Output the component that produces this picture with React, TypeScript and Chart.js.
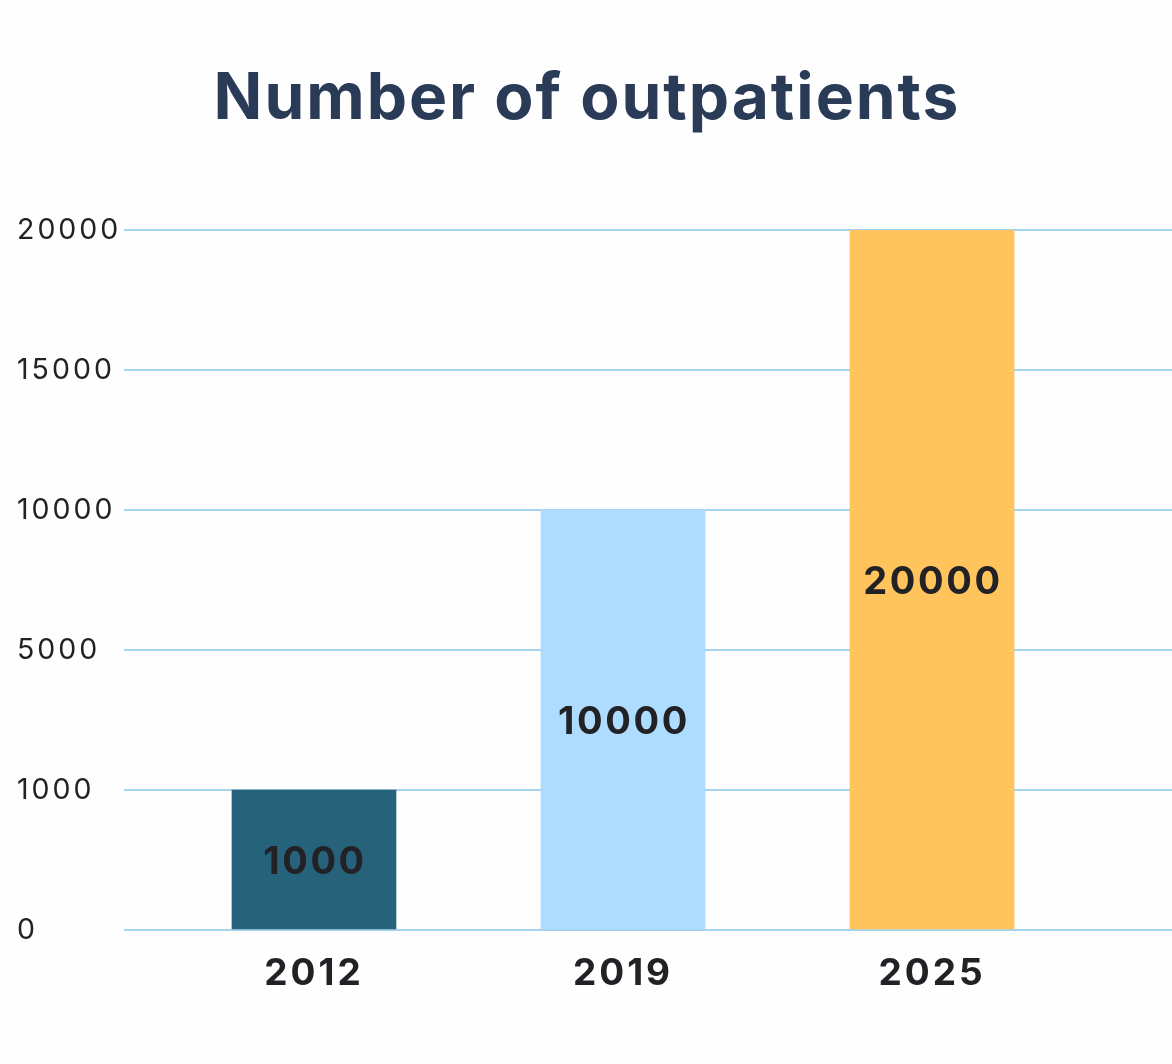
import React, { useEffect, useRef } from "react";
import { Chart, registerables } from "chart.js";

Chart.register(...registerables);

const titleText = "Number of outpatients";
const categories = ["2012", "2019", "2025"];
const values = [1000, 10000, 20000];
const barColors = ["#27627b", "#addcfe", "#ffc55c"];
const yTickValues = [0, 1000, 5000, 10000, 15000, 20000];

// map a real value onto the evenly spaced tick positions (piecewise linear)
function toAxis(v: number): number {
  for (let i = 1; i < yTickValues.length; i++) {
    const a = yTickValues[i - 1];
    const b = yTickValues[i];
    if (v <= b) return i - 1 + (v - a) / (b - a);
  }
  return yTickValues.length - 1;
}

const FONT = "Inter, 'Open Sans', 'DejaVu Sans', sans-serif";

export default function App() {
  const ref = useRef<HTMLCanvasElement | null>(null);

  useEffect(() => {
    document.body.style.margin = "0";
    document.body.style.background = "#fefefe";
    const canvas = ref.current!;

    const spacingPlugin = {
      id: "spacing",
      beforeDraw(chart: any) {
        (chart.ctx as any).letterSpacing = "3px";
      },
      afterDraw(chart: any) {
        (chart.ctx as any).letterSpacing = "0px";
      },
    };

    const titlePlugin = {
      id: "customTitle",
      afterDraw(chart: any) {
        const ctx = chart.ctx;
        ctx.save();
        ctx.font = `700 64px ${FONT}`;
        (ctx as any).letterSpacing = "2px";
        ctx.fillStyle = "#2a3b57";
        ctx.textAlign = "center";
        ctx.textBaseline = "middle";
        ctx.fillText(titleText, 587, 100);
        ctx.restore();
      },
    };

    const valueLabels = {
      id: "valueLabels",
      afterDatasetsDraw(chart: any) {
        const ctx = chart.ctx;
        const meta = chart.getDatasetMeta(0);
        ctx.save();
        ctx.font = `700 38px ${FONT}`;
        (ctx as any).letterSpacing = "2.6px";
        ctx.fillStyle = "#222226";
        ctx.textAlign = "center";
        ctx.textBaseline = "middle";
        meta.data.forEach((el: any, i: number) => {
          const cy = (el.y + el.base) / 2;
          ctx.fillText(String(values[i]), el.x + 1, cy + 3);
        });
        ctx.restore();
      },
    };

    const chart = new Chart(canvas, {
      type: "bar",
      data: {
        datasets: [
          {
            data: values.map((v, i) => ({ x: i, y: toAxis(v) })),
            backgroundColor: barColors,
            barThickness: 164,
            borderWidth: 0,
          },
        ],
      },
      options: {
        animation: false,
        responsive: false,
        devicePixelRatio: 1,
        layout: { padding: { top: 230, left: 17, right: 0, bottom: 0 } },
        plugins: {
          legend: { display: false },
          tooltip: { enabled: false },
          title: { display: false },
        },
        scales: {
          x: {
            type: "linear",
            offset: false,
            min: -190 / 309,
            max: (1172 - 314) / 309,
            grid: { display: false },
            border: { display: false },
            afterBuildTicks: (scale: any) => {
              scale.ticks = categories.map((_, i) => ({ value: i }));
            },
            afterFit: (scale: any) => {
              scale.height = 134;
            },
            ticks: {
              padding: 14,
              color: "#222226",
              font: { family: FONT, size: 37, weight: "bold" as any },
              callback: (v: any) => categories[v] ?? "",
              maxRotation: 0,
              autoSkip: false,
            },
          },
          y: {
            type: "linear",
            min: 0,
            max: yTickValues.length - 1,
            afterBuildTicks: (scale: any) => {
              scale.ticks = yTickValues.map((_, i) => ({ value: i }));
            },
            afterFit: (scale: any) => {
              scale.width = 107;
            },
            border: { display: false },
            grid: {
              color: "#a6d4ef",
              lineWidth: 2,
              drawTicks: false,
            },
            ticks: {
              crossAlign: "far",
              color: "#222226",
              font: { family: FONT, size: 28.5 },
              callback: (v: any) => String(yTickValues[v] ?? ""),
            },
          },
        },
      },
      plugins: [spacingPlugin, titlePlugin, valueLabels],
    });

    return () => chart.destroy();
  }, []);

  return <canvas ref={ref} width={1172} height={1064} style={{ display: "block" }} />;
}
